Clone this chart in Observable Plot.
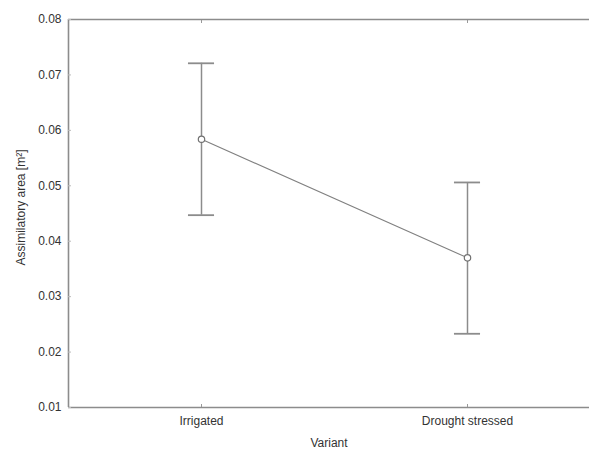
<!DOCTYPE html>
<html>
<head>
<meta charset="utf-8">
<script src="https://cdn.jsdelivr.net/npm/d3@7"></script>
<script src="https://cdn.jsdelivr.net/npm/@observablehq/plot@0.6"></script>
<style>
  html, body { margin: 0; padding: 0; background: #fff; overflow: hidden; }
  #chart svg { display: block; }
</style>
</head>
<body>
<div id="chart"></div>
<script>
const categories = ["Irrigated", "Drought stressed"];
const means = [0.0584, 0.0370];
const upper = [0.0721, 0.0506];
const lower = [0.0447, 0.0233];
const yTicks = [0.01, 0.02, 0.03, 0.04, 0.05, 0.06, 0.07, 0.08];

const data = categories.map((c, i) => ({i, c, mean: means[i], hi: upper[i], lo: lower[i]}));
const capHalf = 0.049;
const gray = "#8c8c8c";
const font = "Liberation Sans, Arial, sans-serif";

const chart = Plot.plot({
  width: 589,
  height: 450,
  marginLeft: 68,
  marginRight: 0,
  marginTop: 19,
  marginBottom: 43,
  style: {fontFamily: font, fontSize: "12px", color: "#333", background: "#fff"},
  x: {domain: [-0.5, 1.5], range: [68, 600], ticks: [0, 1], tickFormat: i => categories[i], label: null},
  y: {domain: [0.01, 0.08], ticks: yTicks, tickFormat: d3.format(".2f"), label: null},
  marks: [
    Plot.ruleY([0.01, 0.08], {stroke: gray, strokeWidth: 1.6}),
    Plot.ruleX([-0.5], {stroke: gray, strokeWidth: 1.6}),
    Plot.axisY({ticks: yTicks, tickSize: -3, tickFormat: () => "", stroke: "#bbb"}),
    Plot.axisY({ticks: yTicks, tickSize: 0, tickPadding: 7, tickFormat: d3.format(".2f"), fill: "#333", fontSize: 12}),
    Plot.axisX({anchor: "bottom", ticks: [0, 1], tickSize: -3, tickFormat: () => "", stroke: "#999"}),
    Plot.axisX({anchor: "top", ticks: [0, 1], tickSize: -3, tickFormat: () => "", stroke: "#999", label: null}),
    Plot.axisX({anchor: "bottom", ticks: [0, 1], tickSize: 0, tickPadding: 9, tickFormat: i => categories[i], fill: "#333", fontSize: 12,
      label: "Variant", labelAnchor: "center", labelArrow: "none", labelOffset: 39}),
    Plot.text(["Assimilatory area [m²]"], {frameAnchor: "left", textAnchor: "middle", dx: -47, dy: -6, rotate: -90, fill: "#333", fontSize: 12}),
    Plot.ruleX(data, {x: "i", y1: "lo", y2: "hi", stroke: gray, strokeWidth: 1.5}),
    Plot.ruleY(data, {y: "hi", x1: d => d.i - capHalf, x2: d => d.i + capHalf, stroke: gray, strokeWidth: 1.8}),
    Plot.ruleY(data, {y: "lo", x1: d => d.i - capHalf, x2: d => d.i + capHalf, stroke: gray, strokeWidth: 1.8}),
    Plot.line(data, {x: "i", y: "mean", stroke: "#808080", strokeWidth: 1.1}),
    Plot.dot(data, {x: "i", y: "mean", r: 3.2, fill: "#fff", stroke: "#707070", strokeWidth: 1.2})
  ]
});
document.getElementById("chart").appendChild(chart);
</script>
</body>
</html>
